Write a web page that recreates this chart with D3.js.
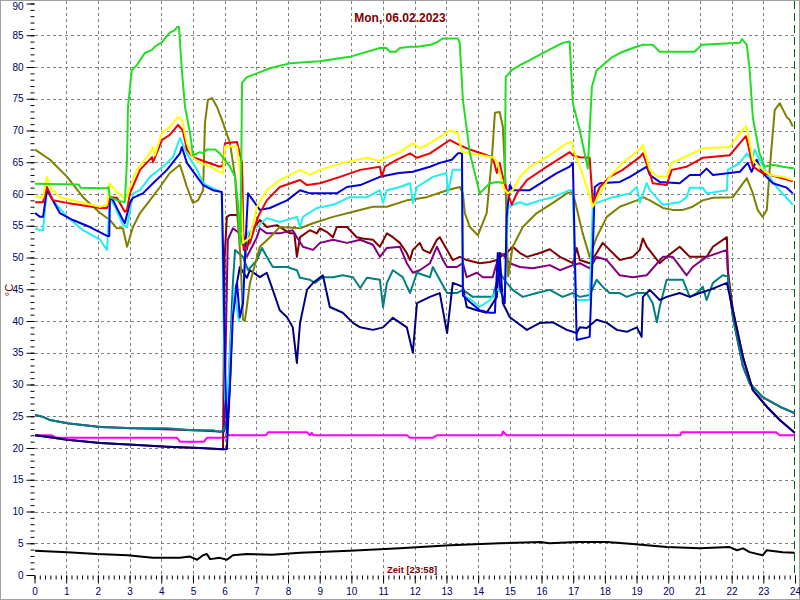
<!DOCTYPE html>
<html><head><meta charset="utf-8">
<script src="https://cdn.jsdelivr.net/npm/d3@7"></script>
<style>body{margin:0;background:#fff}svg{display:block}</style>
</head><body>
<svg id="c" width="800" height="600"></svg>
<script>
const title = "Mon, 06.02.2023";
const xLabel = "Zeit [23:58]";
const yLabel = "°C";
const xTicks = d3.range(0, 25, 1);
const yTicks = d3.range(0, 91, 5);

// [hour, °C]
const green = [[0.02,61.6],[1.4,61.5],[1.45,61.0],[2.29,60.9],[2.33,61.1],[2.38,59.5],[2.6,59],[2.85,58.7],[2.92,65.4],[2.95,73.7],[3.07,79.5],[3.23,80.3],[3.48,82.2],[3.71,82.7],[3.8,83.2],[4.02,83.9],[4.27,85.4],[4.43,85.8],[4.5,86.3],[4.56,86.3],[4.65,79.5],[4.75,73.7],[4.91,69.6],[5.0,66.1],[5.22,66.6],[5.32,66.4],[5.44,67],[5.7,67],[5.85,66.4],[6.17,64.3],[6.33,62.7],[6.42,58.6],[6.5,52],[6.55,77.5],[6.7,78.4],[7.02,79],[7.43,79.8],[7.84,80.3],[8.06,80.6],[9.0,80.9],[9.95,81.6],[10.9,83],[11.1,83],[11.22,82.4],[11.4,82.4],[11.53,83],[11.85,83.2],[12.07,83.2],[12.5,83.5],[12.7,83.9],[12.89,84.5],[13.36,84.5],[13.42,83.8],[13.52,74.8],[13.74,66.4],[14.05,60.1],[14.37,61.7],[14.59,61.9],[14.84,61.7],[14.87,78.4],[15.06,79.5],[15.32,80.3],[15.63,81.1],[16.04,82.2],[16.36,83],[16.67,83.8],[16.89,84],[16.99,74.3],[17.21,70],[17.46,64],[17.59,76.9],[17.74,79.5],[18.25,81.6],[18.47,82.2],[18.88,83],[19.2,83.5],[19.51,83.5],[19.73,82.4],[20.83,82.4],[21.06,83.5],[22.26,83.8],[22.33,84.4],[22.48,83.5],[22.57,79.5],[22.67,72],[22.88,66.4],[23.04,64.3],[23.3,64.6],[23.61,64.3],[23.99,64]];
const yellow = [[0.02,59.6],[0.27,59.4],[0.39,62.7],[0.49,61.1],[0.8,59.5],[1.44,58.7],[2.07,58],[2.29,58.3],[2.38,61.7],[2.54,60.6],[2.79,59.5],[2.92,59.5],[3.01,61.1],[3.23,63.8],[3.55,65.8],[3.71,67],[3.74,67.4],[3.8,66.1],[4.02,69.6],[4.27,70.6],[4.53,72.1],[4.65,71.7],[4.81,68],[5.0,65.7],[5.22,64.9],[5.54,64.3],[5.85,63.5],[5.95,63.3],[6.01,67.5],[6.39,67.5],[6.5,63],[6.58,52.3],[6.8,53.2],[7.02,58],[7.33,60.6],[7.74,62.2],[8.38,63.8],[8.69,63],[9.01,63.8],[9.73,64.9],[10.49,65.7],[10.9,65.2],[11.12,65.8],[11.53,66.6],[11.94,68],[12.16,67.2],[12.48,68],[12.79,69],[13.11,70],[13.36,69.6],[13.49,66.6],[13.74,66.4],[14.46,65.8],[14.62,64.9],[14.78,61.1],[14.94,60.1],[15.09,60.6],[15.32,62.7],[15.63,64.3],[16.17,65.8],[16.8,68],[16.96,68.2],[16.99,67.2],[17.21,64.3],[17.46,60.6],[17.62,58],[17.84,60.1],[18.15,62.7],[18.56,64.9],[19.1,67],[19.2,67.7],[19.42,63.8],[19.64,62.8],[19.95,62.7],[20.11,64.9],[20.46,65.7],[20.77,66.4],[21.09,67.2],[21.94,67.4],[22.26,69.6],[22.45,70.7],[22.51,69.6],[22.67,65.4],[22.88,64.3],[23.2,63],[23.61,62.7],[23.93,62.2]];
const red = [[0.02,58.7],[0.27,58.7],[0.39,61.1],[0.58,59],[1.03,58.6],[2.07,57.8],[2.29,57.8],[2.38,59.5],[2.6,59.4],[2.85,57.2],[2.92,57.5],[3.01,60.1],[3.33,63.8],[3.71,65.8],[3.74,65],[4.02,68.5],[4.27,69.3],[4.53,70.9],[4.68,70],[4.81,67],[5.0,65.8],[5.44,65],[5.85,64.3],[5.95,64.5],[6.01,68],[6.39,68.2],[6.55,64.9],[6.6,51.2],[6.8,52.3],[7.05,56.4],[7.33,59],[7.74,61.1],[8.38,62.2],[8.6,61.4],[9.01,61.7],[9.64,62.7],[10.28,63.8],[10.9,64.3],[10.96,62.7],[11.06,64.3],[11.44,65.4],[11.85,66.4],[12.07,65.7],[12.48,66.4],[13.11,68.5],[13.42,67.7],[13.74,67],[14.46,65.8],[14.59,63.3],[14.68,64.9],[14.78,62.7],[14.94,60.1],[15.06,58.3],[15.22,60.1],[15.54,62.2],[16.17,64.3],[16.89,66.6],[16.99,66.1],[17.21,65.8],[17.52,65.7],[17.62,58.6],[17.84,61.1],[18.15,62.7],[18.56,63.8],[19.1,65.8],[19.2,66.4],[19.42,63.3],[19.51,61.7],[19.95,61.4],[20.11,63.8],[20.58,64.3],[21.09,65.7],[21.94,66.1],[22.26,68],[22.45,69.1],[22.51,68],[22.67,64.3],[22.98,63.3],[23.42,62.7],[23.93,62]];
const blue = [[0.02,57],[0.17,56.4],[0.27,56.4],[0.39,60.6],[0.49,59.8],[0.8,57],[1.21,55.9],[1.75,54.8],[2.29,53.4],[2.36,53.4],[2.38,59.5],[2.48,59],[2.79,55.9],[2.85,55.4],[3.01,58.6],[3.11,59.4],[3.42,60.1],[3.74,61.7],[4.18,63.8],[4.59,66.4],[4.65,67.4],[4.81,64.9],[5.13,62.7],[5.32,61.4],[5.63,60.6],[5.91,60.3],[5.95,51.2],[6.01,33.4],[6.07,22.4],[6.17,30.2],[6.26,40.6],[6.39,46],[6.48,40.6],[6.58,42.8],[6.7,56.4],[6.74,60.1],[7.11,57.5],[7.43,57.8],[7.97,59],[8.38,60.6],[8.69,60.1],[9.54,60.1],[9.86,61.1],[10.28,61.4],[10.9,62.7],[11.5,63.3],[11.94,63.5],[12.48,64.3],[12.79,64.9],[13.17,65.4],[13.36,66.4],[13.49,66.4],[13.52,44],[13.74,43],[14.05,41.7],[14.37,41.3],[14.53,41.3],[14.62,50.7],[14.7,45],[14.84,42.8],[14.9,56.4],[15.0,61.4],[15.09,60.6],[15.63,60.6],[16.04,61.9],[16.48,63.3],[16.89,64.3],[16.99,64.9],[17.05,51.2],[17.11,37],[17.52,37.5],[17.62,51.2],[17.68,61.1],[17.84,61.7],[18.47,61.9],[18.79,62.7],[19.32,64.3],[19.42,63],[19.73,61.9],[20.36,61.7],[20.68,63],[21.0,63],[21.21,64],[21.41,63],[21.94,63.3],[22.26,63.5],[22.51,64.9],[22.63,63.5],[22.79,65.4],[22.98,63.3],[23.3,61.7],[23.74,61],[23.93,60.1]];
const cyan = [[0.02,54.6],[0.17,54.3],[0.27,54.3],[0.39,60.6],[0.58,59],[1.03,56.4],[1.53,54.3],[2.07,52.8],[2.29,51.2],[2.38,59.5],[2.54,58],[2.79,55.1],[2.92,54.8],[3.11,60.1],[3.33,60.6],[3.64,62.7],[4.05,64.3],[4.37,65.8],[4.59,68.8],[4.81,66.4],[5.13,63.8],[5.32,61.7],[5.54,61.1],[5.76,60.6],[5.91,60.3],[5.95,45],[6.01,28],[6.07,25],[6.17,35],[6.3,45],[6.45,40],[6.55,42],[6.7,53.8],[7.02,54.8],[7.33,56.2],[7.74,55.6],[8.28,56.4],[8.38,54.8],[8.47,56.4],[8.91,57.8],[9.42,58.3],[9.95,59.5],[10.49,59.5],[10.9,60.6],[11.0,58.6],[11.12,60.6],[11.53,61.1],[11.85,61.7],[11.94,58.6],[12.07,61.1],[12.57,62.7],[13.0,63.3],[13.04,60.1],[13.2,63.8],[13.49,63.8],[13.52,44],[13.74,43.5],[14.05,42.2],[14.37,43.3],[14.6,45],[14.84,44],[14.94,58],[15.32,58.7],[15.54,58.3],[15.95,59],[16.36,59.5],[16.89,60.6],[16.99,60.5],[17.08,43.3],[17.52,43.3],[17.62,58.6],[17.74,58.6],[18.25,59.5],[18.79,60.1],[19.01,61.1],[19.1,58.6],[19.32,61.7],[19.42,60.6],[19.83,58.3],[20.36,58.7],[20.58,59.5],[20.68,61],[21.09,61],[21.21,60.1],[21.85,60.6],[21.88,63.8],[22.26,64.9],[22.48,66.4],[22.63,65.4],[22.73,67],[22.88,65.4],[23.11,63.3],[23.42,61.1],[23.93,58.3]];
const olive = [[0.02,67],[0.49,65.4],[1.03,62.7],[1.53,59.5],[2.07,57],[2.38,55.9],[2.6,54.6],[2.79,54.6],[2.92,51.7],[3.11,54.8],[3.33,57],[3.64,59],[3.96,61.1],[4.27,63.3],[4.59,64.6],[4.81,61.1],[5.0,58.6],[5.16,59],[5.32,60.6],[5.38,71.2],[5.47,74.8],[5.6,75.1],[5.76,73.7],[5.95,71.2],[6.17,68],[6.33,62.7],[6.42,55.4],[6.5,50],[6.58,40.2],[6.64,40],[6.8,46],[7.11,51.7],[7.43,53.2],[7.74,54.8],[8.38,54.6],[8.79,55.4],[9.42,56.4],[10.05,57.2],[10.68,58],[11.12,58],[11.75,59],[12.38,59.5],[13.02,60.6],[13.42,61.1],[13.52,60.1],[13.58,57],[13.74,54.8],[13.99,53.5],[14.27,57],[14.43,65.4],[14.53,72.8],[14.68,72.9],[14.78,70.6],[14.87,61.1],[14.9,53.8],[14.95,47],[15.09,51.7],[15.41,54.8],[15.85,57],[16.36,58.6],[16.8,60.1],[16.96,60.3],[17.05,59],[17.3,53.8],[17.52,50.1],[17.74,53.2],[18.06,56.4],[18.47,58],[19.01,59],[19.2,59.5],[19.42,59],[19.83,57.8],[20.14,57.5],[20.46,57.5],[20.77,58],[21.09,59],[21.41,59.4],[22.04,59.5],[22.48,62.5],[22.67,60.1],[22.82,57.5],[22.98,56.4],[23.11,57.5],[23.2,63.8],[23.36,73.2],[23.52,74.3],[23.74,72.1],[23.83,71.7],[23.93,70.6]];
const maroon = [[0.02,22],[0.49,21.7],[1.03,21.3],[2.07,20.8],[3.11,20.5],[4.18,20.2],[5.22,20],[5.9,19.8],[5.95,19.8],[6.0,50],[6.07,56.4],[6.17,56.7],[6.39,56.7],[6.48,55.9],[6.58,53.8],[6.7,51.2],[6.8,53.8],[7.11,55.9],[7.33,54.8],[7.65,55.1],[8.06,53.8],[8.2,53.8],[8.28,50.1],[8.38,53.2],[8.69,54.3],[8.91,53.8],[9.01,54.6],[9.23,54],[9.42,53.2],[9.54,54.8],[9.86,54.8],[10.17,53.2],[10.36,53],[10.68,52.8],[10.9,51.7],[11.12,53.8],[11.31,53.2],[11.53,52.3],[11.75,50.7],[11.85,49.6],[11.94,51.2],[12.16,52.3],[12.26,51.2],[12.48,50.7],[12.7,52.8],[12.79,53.2],[13.02,51.2],[13.2,49.6],[13.42,50.1],[13.64,49.6],[14.05,49.1],[14.37,49.3],[14.59,49.6],[14.78,50.4],[14.9,50.7],[15.09,51.7],[15.32,50.7],[15.54,50.1],[15.95,50.7],[16.26,51.3],[16.58,50.1],[16.99,49.1],[17.11,51.5],[17.21,49.6],[17.52,49.1],[17.74,50.7],[17.93,52.3],[18.15,51.2],[18.47,49.6],[18.88,50.1],[19.1,51.2],[19.2,53],[19.32,51.7],[19.73,49.1],[19.95,50.1],[20.36,51.7],[20.68,50.1],[21.21,50.1],[21.41,51.7],[21.85,53.2],[21.88,48],[22.04,41.7],[22.36,34.3],[22.67,29.1],[23.11,26.5],[23.52,24.4],[23.99,22.4]];
const purple = [[0.02,25.2],[0.27,24.9],[0.49,24.4],[1.03,23.9],[2.07,23.3],[3.11,23.1],[5.0,22.8],[5.85,22.6],[5.98,22.6],[6.05,40],[6.1,52.8],[6.26,54.6],[6.48,53.8],[6.7,50.1],[7.02,53.2],[7.11,54.6],[7.33,53.8],[7.74,53.8],[8.15,54.3],[8.28,53.2],[8.47,51.7],[8.79,51.2],[9.01,52.3],[9.42,52.8],[9.86,52.3],[10.28,52.8],[10.68,52],[10.9,50.1],[11.12,51.5],[11.53,51.7],[11.75,49.1],[11.94,47.6],[12.16,48],[12.48,49.1],[12.7,51.7],[12.89,49.6],[13.02,48.5],[13.33,48.5],[13.52,49.1],[13.64,46.9],[13.96,47.6],[14.15,46.9],[14.46,46.9],[14.68,50.7],[14.78,50.5],[15.0,49.1],[15.32,48.5],[15.73,48.3],[16.26,48.8],[16.58,48],[16.99,48.8],[17.21,49.1],[17.52,48.3],[17.74,50.1],[18.06,49.6],[18.47,47.2],[18.88,46.9],[19.32,47.2],[19.83,50.1],[20.14,50.1],[20.58,47.2],[20.77,48.5],[21.21,50.1],[21.85,51.2],[21.9,46],[22.04,40.6],[22.36,32.8],[22.57,30.2],[22.98,28],[23.52,26.5],[23.99,25.5]];
const teal = [[0.02,25.2],[0.27,24.9],[0.49,24.4],[1.03,23.9],[2.07,23.3],[3.11,23.1],[4.18,23.1],[5.0,22.8],[5.63,22.8],[5.85,22.5],[5.95,22.8],[6.07,23.9],[6.17,35.4],[6.26,46],[6.33,51.2],[6.39,50.9],[6.58,50.1],[6.74,48],[7.02,49.6],[7.18,51.5],[7.33,50.1],[7.52,48.5],[7.97,48.5],[8.28,48],[8.38,46.8],[8.69,46.5],[8.85,46],[9.1,46.9],[9.42,46.9],[9.73,47.2],[10.05,46.9],[10.28,45.2],[10.49,46.8],[10.9,46.5],[11.0,42.2],[11.12,46],[11.31,48],[11.62,46.9],[11.85,44.4],[12.07,47.6],[12.48,46.9],[12.57,48.5],[12.79,46.5],[13.02,44.4],[13.33,44.4],[13.52,44.9],[13.83,43.8],[14.15,43.8],[14.46,43.8],[14.68,47.6],[14.9,46],[15.09,44.9],[15.41,43.8],[15.85,44.4],[16.26,44.9],[16.67,43.8],[16.99,44.4],[17.21,43.8],[17.52,44.1],[17.74,46.5],[17.93,45.4],[18.15,44.4],[18.47,44.4],[18.69,43.8],[19.01,44.4],[19.32,44.4],[19.51,42.8],[19.64,39.8],[19.73,42.2],[19.95,46.5],[20.46,46.5],[20.68,43.8],[20.9,44.4],[21.09,45.4],[21.21,43.3],[21.41,46],[21.72,47.2],[21.88,47],[22.04,40.6],[22.36,32.8],[22.57,30.2],[22.98,28],[23.52,26.5],[23.99,25.5]];
const navy = [[0.02,22],[0.49,21.7],[1.03,21.3],[2.07,20.8],[3.11,20.5],[4.18,20.2],[5.22,20],[5.95,19.8],[6.07,19.8],[6.17,30.2],[6.26,43.3],[6.39,46],[6.48,48.5],[6.7,46.8],[6.8,48],[7.11,46.9],[7.33,47.6],[7.52,44.9],[7.74,41.7],[7.97,40.6],[8.15,39],[8.28,33.4],[8.38,39.7],[8.6,44.9],[8.79,46],[9.1,47.2],[9.32,42.2],[9.73,41.3],[10.05,39.7],[10.28,39],[10.68,38.6],[11.0,39],[11.31,40.5],[11.75,39],[11.94,35],[12.07,42.8],[12.48,43.8],[12.79,44.4],[13.02,38.1],[13.2,46],[13.52,45.4],[13.64,42.2],[13.96,41.7],[14.27,41.3],[14.59,43.8],[14.68,50.7],[14.78,42.8],[15.0,40.6],[15.54,38.6],[15.95,39.7],[16.36,39.8],[16.8,38.6],[17.11,38.1],[17.21,39],[17.43,38.9],[17.74,40.2],[18.06,39.7],[18.38,38.6],[18.69,38.3],[19.01,39],[19.16,37.5],[19.2,43.8],[19.42,44.9],[19.73,43.3],[19.95,43.8],[20.36,44.4],[20.68,43.8],[21.0,44.4],[21.31,44.9],[21.85,46],[22.04,41.7],[22.36,34.3],[22.67,29.1],[23.11,26.5],[23.52,24.4],[23.99,22.4]];
const magenta = [[0.02,22],[0.55,22],[0.7,21.6],[4.5,21.6],[4.59,21],[5.35,21],[5.44,21.6],[6.0,21.6],[6.1,22],[7.3,22],[7.38,22.5],[8.6,22.5],[8.69,22],[8.75,22.4],[8.8,22],[11.75,22],[11.85,21.6],[12.57,21.6],[12.7,22],[14.75,22],[14.78,22.6],[14.9,22],[20.38,22],[20.42,22.5],[23.4,22.5],[23.52,22],[23.99,22]];
const black = [[0.02,3.8],[1.03,3.6],[1.97,3.3],[2.95,3.1],[3.33,2.9],[3.74,2.7],[4.59,2.7],[4.91,2.9],[5.13,2.4],[5.32,3.1],[5.44,3.3],[5.54,2.5],[5.85,2.7],[6.07,2.4],[6.26,3.1],[6.7,3.3],[7.5,3.2],[8.38,3.5],[9.95,3.8],[11.53,4.2],[13.11,4.7],[14.68,5],[15.95,5.2],[16.26,5],[17.11,5.2],[18.06,5.2],[18.88,4.9],[19.95,4.4],[21.0,4.2],[21.94,4.4],[22.17,3.9],[22.36,4.2],[22.57,3.6],[22.98,3.1],[23.11,3.9],[23.61,3.6],[23.99,3.5]];

const series = [
  {data: black, color: "#000000"},
  {data: magenta, color: "#ff00ff"},
  {data: maroon, color: "#800000"},
  {data: purple, color: "#800080"},
  {data: teal, color: "#008080"},
  {data: navy, color: "#000080"},
  {data: olive, color: "#808000"},
  {data: cyan, color: "#22eeee"},
  {data: blue, color: "#0000dd"},
  {data: red, color: "#ee0000"},
  {data: yellow, color: "#ffff00"},
  {data: green, color: "#22dd22"}
];

const svg = d3.select("#c");
const x = d3.scaleLinear().domain([0, 24]).range([34.5, 795]);
const y = d3.scaleLinear().domain([0, 90]).range([575, 3.5]);

svg.append("rect").attr("x",0.5).attr("y",0.5).attr("width",799).attr("height",599)
  .attr("fill","#fff").attr("stroke","#a0a0a0");

const g = svg.append("g");
g.selectAll(".vg").data(d3.range(1, 24)).join("line")
  .attr("x1", d => Math.round(x(d)) + 0.5).attr("x2", d => Math.round(x(d)) + 0.5)
  .attr("y1", 1).attr("y2", 575)
  .attr("stroke", "#808080").attr("stroke-dasharray", "3,3");
g.selectAll(".hg").data(d3.range(5, 90, 5)).join("line")
  .attr("y1", d => Math.round(y(d)) + 0.5).attr("y2", d => Math.round(y(d)) + 0.5)
  .attr("x1", 35).attr("x2", 795)
  .attr("stroke", "#808080").attr("stroke-dasharray", "3,3");
g.append("line").attr("x1", Math.round(x(24)) - 0.5).attr("x2", Math.round(x(24)) - 0.5)
  .attr("y1", 1).attr("y2", 575).attr("stroke", "#006400").attr("stroke-dasharray", "8,4");

const yAxisMajor = d3.axisLeft(y).tickValues(yTicks).tickSize(8).tickPadding(3);
const yAxisMinor = d3.axisLeft(y).tickValues(d3.range(0, 91, 1)).tickSize(4).tickFormat("");
const ya1 = svg.append("g").attr("transform", "translate(34.5,0)").call(yAxisMinor);
const ya2 = svg.append("g").attr("transform", "translate(34.5,0)").call(yAxisMajor);
const xAxisMajor = d3.axisBottom(x).tickValues(xTicks).tickSize(8).tickPadding(4);
const xAxisMinor = d3.axisBottom(x).tickValues(d3.range(0, 24.01, 1/6)).tickSize(4).tickFormat("");
const xa1 = svg.append("g").attr("transform", "translate(0,575.5)").call(xAxisMinor);
const xa2 = svg.append("g").attr("transform", "translate(0,575.5)").call(xAxisMajor);
[ya1, ya2, xa1, xa2].forEach(a => {
  a.select(".domain").remove();
  a.selectAll("line").attr("stroke", "#000");
  a.selectAll("text").attr("fill", "#000060").style("font-family", "Arial, 'Liberation Sans', sans-serif").style("font-size", "10px");
});
// keep the top label inside the picture
ya2.selectAll(".tick").filter(d => d === 90).select("text").attr("dy", "0.6em");

const line = d3.line().x(d => x(d[0])).y(d => y(d[1]));
svg.append("g").selectAll("path").data(series).join("path")
  .attr("d", d => line(d.data)).attr("fill", "none")
  .attr("stroke", d => d.color).attr("stroke-width", 2).attr("stroke-linejoin", "round");

svg.append("text").attr("x", 400).attr("y", 22).attr("text-anchor", "middle")
  .attr("fill", "#800000").style("font-family", "Arial, 'Liberation Sans', sans-serif")
  .style("font-size", "12px").style("font-weight", "bold").text(title);
svg.append("text").attr("x", 412).attr("y", 573).attr("text-anchor", "middle")
  .attr("fill", "#800000").style("font-family", "Arial, 'Liberation Sans', sans-serif")
  .style("font-size", "9.5px").style("font-weight", "bold").text(xLabel);
svg.append("text").attr("transform", "translate(13,290) rotate(-90)").attr("text-anchor", "middle")
  .attr("fill", "#800000").style("font-family", "Arial, 'Liberation Sans', sans-serif")
  .style("font-size", "11px").text(yLabel);
</script>
</body></html>
